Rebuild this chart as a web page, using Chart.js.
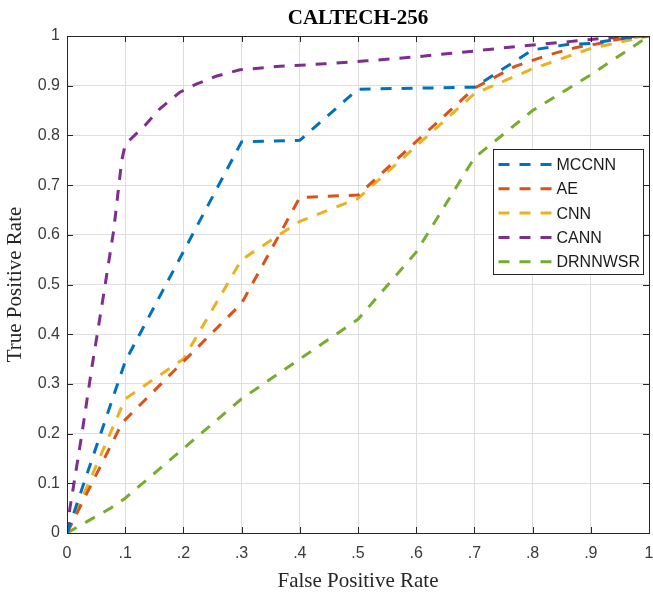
<!DOCTYPE html>
<html>
<head>
<meta charset="utf-8">
<title>CALTECH-256 ROC</title>
<script src="https://cdn.jsdelivr.net/npm/chart.js@4.4.1/dist/chart.umd.min.js"></script>
<style>
  html, body { margin: 0; padding: 0; background: #ffffff; }
  #wrap { width: 653px; height: 596px; }
</style>
</head>
<body>
<div id="wrap"><canvas id="rocChart" width="653" height="596"></canvas></div>
<script>
// ---- dados ----
const seriesNames = ['MCCNN', 'AE', 'CNN', 'CANN', 'DRNNWSR'];

const mccnnFpr = [0, 0.1, 0.3, 0.4, 0.5, 0.7, 0.8, 0.86, 0.9, 0.96, 1];
const mccnnTpr = [0, 0.345, 0.787, 0.79, 0.893, 0.897, 0.972, 0.983, 0.985, 0.996, 1];

const aeFpr = [0, 0.095, 0.2, 0.3, 0.4, 0.5, 0.7, 0.77, 0.81, 0.84, 0.875, 0.91, 0.945, 0.975, 1];
const aeTpr = [0, 0.222, 0.345, 0.462, 0.675, 0.68, 0.895, 0.939, 0.955, 0.966, 0.977, 0.984, 0.993, 0.998, 1];

const cnnFpr = [0, 0.1, 0.2, 0.3, 0.4, 0.5, 0.7, 0.8, 0.9, 1];
const cnnTpr = [0, 0.27, 0.35, 0.55, 0.627, 0.673, 0.884, 0.934, 0.975, 1];

const cannFpr = [0, 0.005, 0.012, 0.025, 0.043, 0.062, 0.08, 0.094, 0.1, 0.134, 0.159, 0.194, 0.222, 0.256, 0.297, 0.366, 0.443, 0.515, 0.6, 0.702, 0.773, 0.848, 0.919, 0.99, 1];
const cannTpr = [0, 0.05, 0.1, 0.195, 0.335, 0.473, 0.607, 0.749, 0.782, 0.82, 0.853, 0.887, 0.903, 0.919, 0.932, 0.939, 0.944, 0.95, 0.958, 0.97, 0.979, 0.987, 0.995, 1, 1];

const drnnFpr = [0, 0.075, 0.1, 0.3, 0.5, 0.6, 0.7, 0.8, 0.9, 1];
const drnnTpr = [0, 0.05, 0.07, 0.27, 0.43, 0.565, 0.755, 0.85, 0.922, 1];

const xTickLabels = ['0', '.1', '.2', '.3', '.4', '.5', '.6', '.7', '.8', '.9', '1'];
const yTickLabels = ['0', '0.1', '0.2', '0.3', '0.4', '0.5', '0.6', '0.7', '0.8', '0.9', '1'];

// cores padrão do MATLAB
const lineColors = ['#0072BD', '#D95319', '#EDB120', '#7E2F8E', '#77AC30'];
const dash = [11, 10];
const axisColor = '#262626';
const tickColor = '#3a3a3a';
const gridColor = '#dedede';

function toPoints(xs, ys) {
    return xs.map((x, i) => ({ x: x, y: ys[i] }));
}

const allX = [mccnnFpr, aeFpr, cnnFpr, cannFpr, drnnFpr];
const allY = [mccnnTpr, aeTpr, cnnTpr, cannTpr, drnnTpr];

const datasets = seriesNames.map((name, i) => ({
    label: name,
    data: toPoints(allX[i], allY[i]),
    borderColor: lineColors[i],
    backgroundColor: lineColors[i],
    borderWidth: 3,
    borderDash: dash,
    pointRadius: 0,
    tension: 0,
    fill: false
}));

// caixa do eixo (box on) + ticks para dentro nos 4 lados
const axesBox = {
    id: 'axesBox',
    afterDatasetsDraw(chart) {
        const { ctx, chartArea: a, scales } = chart;
        const tl = 6;
        ctx.save();
        ctx.strokeStyle = axisColor;
        ctx.lineWidth = 1;
        ctx.setLineDash([]);
        ctx.strokeRect(Math.round(a.left) + 0.5, Math.round(a.top) + 0.5,
            Math.round(a.right - a.left), Math.round(a.bottom - a.top));
        ctx.beginPath();
        scales.x.ticks.forEach(t => {
            const px = Math.round(scales.x.getPixelForValue(t.value)) + 0.5;
            ctx.moveTo(px, a.bottom); ctx.lineTo(px, a.bottom - tl);
            ctx.moveTo(px, a.top); ctx.lineTo(px, a.top + tl);
        });
        scales.y.ticks.forEach(t => {
            const py = Math.round(scales.y.getPixelForValue(t.value)) + 0.5;
            ctx.moveTo(a.left, py); ctx.lineTo(a.left + tl, py);
            ctx.moveTo(a.right, py); ctx.lineTo(a.right - tl, py);
        });
        ctx.stroke();
        ctx.restore();
    }
};

// legenda dentro da área do gráfico (canto direito)
const insideLegend = {
    id: 'insideLegend',
    afterDraw(chart) {
        const { ctx, chartArea: a } = chart;
        const boxW = 150, boxH = 125;
        const bx = Math.round(a.right - 6 - boxW) + 0.5;
        const by = Math.round(a.top + 113) + 0.5;
        ctx.save();
        ctx.fillStyle = '#ffffff';
        ctx.fillRect(bx, by, boxW, boxH);
        ctx.strokeStyle = axisColor;
        ctx.lineWidth = 1;
        ctx.setLineDash([]);
        ctx.strokeRect(bx, by, boxW, boxH);
        ctx.font = '16px "Liberation Sans", Arial, sans-serif';
        ctx.textBaseline = 'middle';
        ctx.textAlign = 'left';
        chart.data.datasets.forEach((ds, i) => {
            const y = by + 15 + i * 24.3;
            ctx.strokeStyle = ds.borderColor;
            ctx.lineWidth = 3;
            ctx.setLineDash(dash);
            ctx.beginPath();
            ctx.moveTo(bx + 5, y);
            ctx.lineTo(bx + 59, y);
            ctx.stroke();
            ctx.setLineDash([]);
            ctx.fillStyle = '#1a1a1a';
            ctx.fillText(ds.label, bx + 63, y + 1);
        });
        ctx.restore();
    }
};

const serif = '"Liberation Serif", "Times New Roman", serif';
const sans = '"Liberation Sans", Arial, sans-serif';

new Chart(document.getElementById('rocChart'), {
    type: 'line',
    data: { datasets: datasets },
    options: {
        responsive: false,
        animation: false,
        events: [],
        layout: { padding: 0 },
        plugins: {
            legend: { display: false },
            tooltip: { enabled: false },
            title: {
                display: true,
                fullSize: false,
                text: 'CALTECH-256',
                color: '#000000',
                font: { family: serif, size: 21, weight: 'bold' },
                padding: { top: 6, bottom: 4.8 }
            }
        },
        scales: {
            x: {
                type: 'linear',
                min: 0,
                max: 1,
                afterFit: s => { s.height = 63; s.paddingLeft = 0; s.paddingRight = 4; },
                border: { display: false },
                grid: { color: gridColor, drawTicks: false },
                ticks: {
                    stepSize: 0.1,
                    padding: 11,
                    color: tickColor,
                    font: { family: sans, size: 16 },
                    maxRotation: 0,
                    callback: (v, i) => xTickLabels[i]
                },
                title: {
                    display: true,
                    text: 'False Positive Rate',
                    color: '#262626',
                    font: { family: serif, size: 21 },
                    padding: { top: 0, bottom: 1.5 }
                }
            },
            y: {
                type: 'linear',
                min: 0,
                max: 1,
                afterFit: s => { s.width = 67; },
                border: { display: false },
                grid: { color: gridColor, drawTicks: false },
                ticks: {
                    stepSize: 0.1,
                    padding: 7,
                    color: tickColor,
                    font: { family: sans, size: 16 },
                    callback: (v, i) => yTickLabels[i]
                },
                title: {
                    display: true,
                    text: 'True Positive Rate',
                    color: '#262626',
                    font: { family: serif, size: 21 },
                    padding: { top: 2.4, bottom: 0 }
                }
            }
        }
    },
    plugins: [axesBox, insideLegend]
});
</script>
</body>
</html>
